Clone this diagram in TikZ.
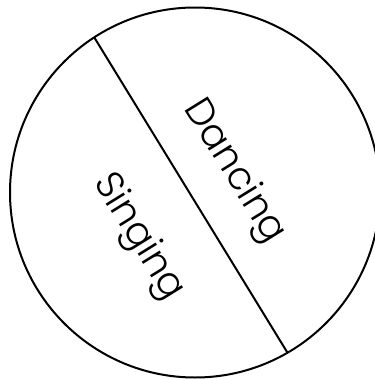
\documentclass[tikz,border=0pt]{standalone}
\usepackage{fontspec}
\setmainfont{Poppins}[UprightFont=* Light]
\usepackage{tikz}
\usetikzlibrary{positioning,calc}

\begin{document}
\begin{tikzpicture}[x=0.75pt, y=-0.75pt,
        rim/.style={draw, circle, line width=1.5pt, inner sep=0pt, outer sep=0pt, minimum size=277.5pt},
        cut/.style={line width=1.5pt},
        word/.style={inner sep=0pt, anchor=base west, rotate=-58.2, font=\fontsize{29}{34}\selectfont}
      ]
        \useasboundingbox (0,0) rectangle (375,379);

        % Kreis
        \node[rim] (disc) at (195,192.5) {};

        % Trennlinie
        \coordinate (top) at (disc.123.2);
        \coordinate (bottom) at (disc.300.5);
        \draw[cut] (top) -- (bottom);

        % Beschriftung
        \node[word] (dance) at (183,108) {Dancing};
        \node[word] (sing) at (93,182) {Singing};
      \end{tikzpicture}
\end{document}
